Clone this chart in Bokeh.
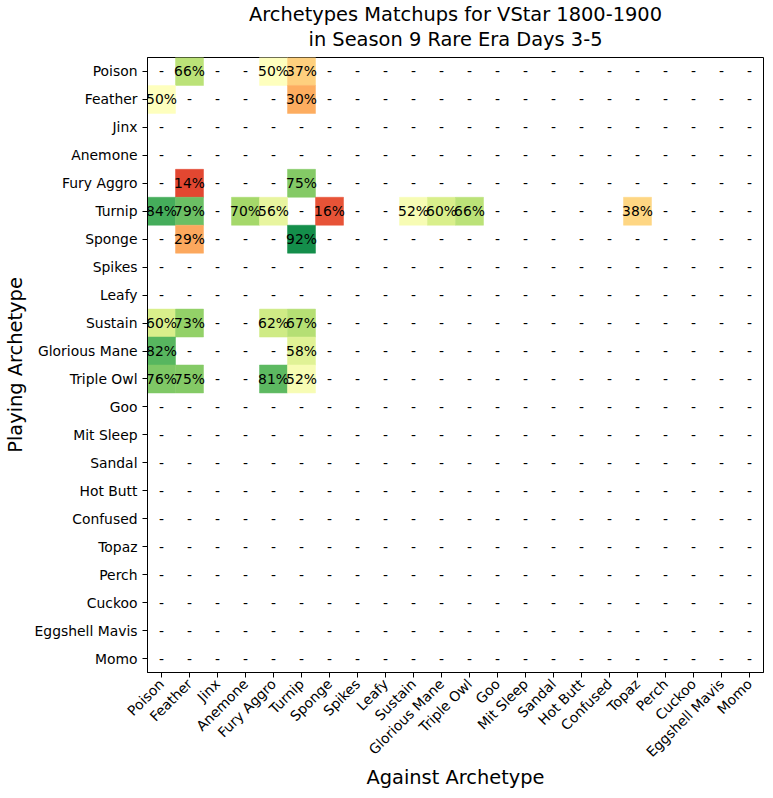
import math
from bokeh.plotting import figure
from bokeh.models import ColumnDataSource, FactorRange, LinearColorMapper, Title
from bokeh.transform import transform
from bokeh.core.properties import value
from bokeh.embed import file_html
from bokeh.resources import INLINE

# Archetype names (rows = playing, columns = against)
archetypes = ["Poison", "Feather", "Jinx", "Anemone", "Fury Aggro", "Turnip", "Sponge",
              "Spikes", "Leafy", "Sustain", "Glorious Mane", "Triple Owl", "Goo",
              "Mit Sleep", "Sandal", "Hot Butt", "Confused", "Topaz", "Perch",
              "Cuckoo", "Eggshell Mavis", "Momo"]

# Recorded matchups: playing archetype, opponent archetype, win rate
match_playing = ["Poison", "Poison", "Poison",
                 "Feather", "Feather",
                 "Fury Aggro", "Fury Aggro",
                 "Turnip", "Turnip", "Turnip", "Turnip", "Turnip", "Turnip", "Turnip", "Turnip", "Turnip",
                 "Sponge", "Sponge",
                 "Sustain", "Sustain", "Sustain", "Sustain",
                 "Glorious Mane", "Glorious Mane",
                 "Triple Owl", "Triple Owl", "Triple Owl", "Triple Owl"]
match_against = ["Feather", "Fury Aggro", "Turnip",
                 "Poison", "Turnip",
                 "Feather", "Turnip",
                 "Poison", "Feather", "Anemone", "Fury Aggro", "Sponge", "Sustain", "Glorious Mane", "Triple Owl", "Topaz",
                 "Feather", "Turnip",
                 "Poison", "Feather", "Fury Aggro", "Turnip",
                 "Poison", "Turnip",
                 "Poison", "Feather", "Fury Aggro", "Turnip"]
match_winrate = [0.66, 0.50, 0.37,
                 0.50, 0.30,
                 0.14, 0.75,
                 0.84, 0.79, 0.70, 0.56, 0.16, 0.52, 0.60, 0.66, 0.38,
                 0.29, 0.92,
                 0.60, 0.73, 0.62, 0.67,
                 0.82, 0.58,
                 0.76, 0.75, 0.81, 0.52]

title_lines = ["Archetypes Matchups for VStar 1800-1900", "in Season 9 Rare Era Days 3-5"]

# Red-yellow-green diverging palette, expanded to 256 steps
anchors = ["#a50026", "#d73027", "#f46d43", "#fdae61", "#fee08b", "#ffffbf",
           "#d9ef8b", "#a6d96a", "#66bd63", "#1a9850", "#006837"]


def _rgb(h):
    return tuple(int(h[i:i + 2], 16) for i in (1, 3, 5))


def expand(cols, n=256):
    rgbs = [_rgb(c) for c in cols]
    out = []
    for k in range(n):
        t = k / (n - 1) * (len(rgbs) - 1)
        i = min(int(math.floor(t)), len(rgbs) - 2)
        f = t - i
        a, b = rgbs[i], rgbs[i + 1]
        out.append("#%02x%02x%02x" % tuple(round(a[j] + (b[j] - a[j]) * f) for j in range(3)))
    return out


palette = expand(anchors)
mapper = LinearColorMapper(palette=palette, low=0.0, high=1.0)

cells = ColumnDataSource(dict(
    playing=match_playing,
    against=match_against,
    rate=match_winrate,
    label=["%d%%" % round(v * 100) for v in match_winrate],
))

# Cells without a recorded matchup are marked with a dash
filled = set(zip(match_playing, match_against))
dash_p, dash_a = [], []
for r in archetypes:
    for c in archetypes:
        if (r, c) not in filled:
            dash_p.append(r)
            dash_a.append(c)
dashes = ColumnDataSource(dict(playing=dash_p, against=dash_a, label=["-"] * len(dash_p)))

FONT = "DejaVu Sans"
SMALL = "13.9px"
LARGE = "19.4px"

p = figure(width=773, height=798,
           x_range=FactorRange(*archetypes),
           y_range=FactorRange(*reversed(archetypes)),
           output_backend="svg", toolbar_location=None,
           min_border_left=147, min_border_right=10,
           min_border_top=57, min_border_bottom=126)

p.rect(x="against", y="playing", width=1, height=1, source=cells,
       fill_color=transform("rate", mapper), line_color=transform("rate", mapper),
       line_width=0.5)

p.text(x="against", y="playing", text="label", source=cells,
       text_align="center", text_baseline="middle", text_color="black",
       text_font=value(FONT), text_font_size=SMALL)
p.text(x="against", y="playing", text="label", source=dashes,
       text_align="center", text_baseline="middle", text_color="black",
       text_font=value(FONT), text_font_size=SMALL)

# Title panels stack outward from the frame: a thin gap first, then line 2, then line 1
p.add_layout(Title(text=" ", text_font_size="4px", standoff=0), "above")
for line in reversed(title_lines):
    p.add_layout(Title(text=line, align="center",
                       text_font=FONT, text_font_size=LARGE, text_font_style="normal",
                       text_color="black", standoff=0), "above")

p.xgrid.visible = False
p.ygrid.visible = False
p.outline_line_color = "black"
p.outline_line_width = 1
p.background_fill_color = "white"
p.border_fill_color = "white"

for ax in (p.xaxis[0], p.yaxis[0]):
    ax.axis_line_color = "black"
    ax.major_tick_line_color = "black"
    ax.major_tick_out = 5
    ax.major_tick_in = 0
    ax.minor_tick_line_color = None
    ax.major_label_text_font = FONT
    ax.major_label_text_font_size = SMALL
    ax.major_label_text_color = "black"
    ax.major_label_standoff = 4
    ax.axis_label_text_font = FONT
    ax.axis_label_text_font_size = LARGE
    ax.axis_label_text_font_style = "normal"
    ax.axis_label_text_color = "black"
    ax.separator_line_color = None

p.xaxis.axis_label = "Against Archetype"
p.yaxis.axis_label = "Playing Archetype"
p.xaxis.major_label_orientation = math.pi / 4
p.xaxis.major_label_standoff = 4
p.xaxis.axis_label_standoff = -3
p.yaxis.major_label_standoff = 5
p.yaxis.axis_label_standoff = 5

open("out.html", "w").write(file_html(p, INLINE))
